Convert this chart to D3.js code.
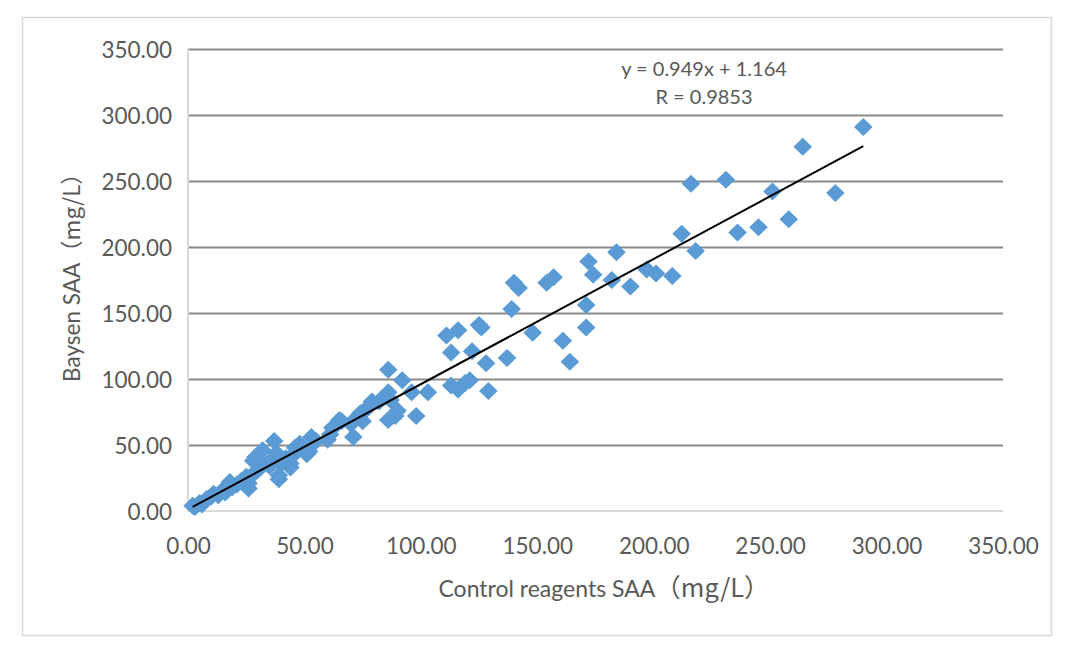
<!DOCTYPE html>
<html>
<head>
<meta charset="utf-8">
<script src="https://cdn.jsdelivr.net/npm/d3@7/dist/d3.min.js"></script>
<style>
  html, body { margin: 0; padding: 0; background: #fff; }
  svg { display: block; }
  text { font-family: Lato, "Open Sans", "Noto Sans CJK SC", sans-serif; fill: #595959; }
</style>
</head>
<body>
<svg id="chart" width="1074" height="655"></svg>
<script>
// ---- data ----
const controlSAA = [2,3,5,6,8,10,11,13,15,16,18,19,21,23,25,26,26,28,28,29,30,31,32,33,35,36,37,38,39,39,40,42,44,44,45,46,48,50,51,52,53,55,60,61,62,64,65,66,70,71,72,74,75,76,78,79,82,84,86,86,86,87,89,90,92,96,98,103,
  111,113,116,113,116,119,121,122,125,126,128,129,137,139,140,142,148,154,157,161,164,171,171,172,174,182,184,190,197,201,208,212,216,218,231,236,245,251,258,264,278,290];
const baysenSAA = [4,3,6,5,9,11,13,12,16,14,22,18,20,23,26,17,21,28,38,41,31,33,46,36,34,39,53,44,27,24,36,40,36,33,42,48,51,47,43,45,56,53,54,58,63,66,69,68,66,56,70,74,68,76,80,83,83,86,107,69,90,84,72,76,99,90,72,90,
  133,120,137,95,92,97,99,121,141,139,112,91,116,153,173,169,135,173,177,129,113,139,156,189,179,175,196,170,183,180,178,210,248,197,251,211,215,242,221,276,241,291];
const tickValues = [0, 50, 100, 150, 200, 250, 300, 350];
const trendSlope = 0.949;
const trendIntercept = 1.164;
const equationLines = ["y = 0.949x + 1.164", "R = 0.9853"];
const xTitleParts = ["Control reagents SAA", "（mg/L）"];
const yTitleParts = ["Baysen SAA", "（mg/L）"];

// ---- layout ----
const svg = d3.select("#chart");
const plot = { left: 188, right: 1003, top: 49, bottom: 511 };

svg.append("rect").attr("x", 0).attr("y", 0).attr("width", 1074).attr("height", 655).attr("fill", "#fff");
svg.append("rect")
  .attr("x", 22.5).attr("y", 17.5).attr("width", 1029).attr("height", 618)
  .attr("fill", "#fff").attr("stroke", "#d9d9d9").attr("stroke-width", 1.5);

const x = d3.scaleLinear().domain([0, 350]).range([plot.left, plot.right]);
const y = d3.scaleLinear().domain([0, 350]).range([plot.bottom, plot.top]);
const fmt = d3.format(".2f");

// gridlines
const grid = svg.append("g").attr("transform", `translate(${plot.left},0)`)
  .call(d3.axisLeft(y).tickValues(tickValues.slice(1)).tickSize(-(plot.right - plot.left)).tickFormat(""));
grid.select(".domain").remove();
grid.selectAll(".tick line").attr("stroke", "#898989").attr("stroke-width", 2);

// axis lines (light)
svg.append("line").attr("x1", plot.left).attr("x2", plot.right).attr("y1", y(0)).attr("y2", y(0))
  .attr("stroke", "#d9d9d9").attr("stroke-width", 2);
svg.append("line").attr("x1", plot.left).attr("x2", plot.left).attr("y1", plot.top).attr("y2", plot.bottom)
  .attr("stroke", "#d9d9d9").attr("stroke-width", 2);

// y tick labels
const yAxis = svg.append("g").attr("transform", `translate(${plot.left - 16},0)`)
  .call(d3.axisLeft(y).tickValues(tickValues).tickSize(0).tickPadding(0).tickFormat(fmt));
yAxis.select(".domain").remove();
yAxis.selectAll("text").attr("font-size", 22.5).attr("fill", "#595959")
  .style("font-family", "Lato, 'Open Sans', sans-serif").attr("dy", "0.36em");

// x tick labels
const xAxis = svg.append("g").attr("transform", `translate(0,${plot.bottom})`)
  .call(d3.axisBottom(x).tickValues(tickValues).tickSize(0).tickPadding(27).tickFormat(fmt));
xAxis.select(".domain").remove();
xAxis.selectAll("text").attr("font-size", 22.5).attr("fill", "#595959")
  .style("font-family", "Lato, 'Open Sans', sans-serif");

// points
const pts = controlSAA.map((c, i) => ({ c, b: baysenSAA[i] }));
const hw = 9.3, hh = 9;
svg.append("g").selectAll("path").data(pts).join("path")
  .attr("d", d => {
    const cx = x(d.c), cy = y(d.b);
    const p = d3.path();
    p.moveTo(cx, cy - hh); p.lineTo(cx + hw, cy); p.lineTo(cx, cy + hh); p.lineTo(cx - hw, cy); p.closePath();
    return p.toString();
  })
  .attr("fill", "#5b9bd5");

// trendline
const xmin = d3.min(controlSAA), xmax = d3.max(controlSAA);
svg.append("line")
  .attr("x1", x(xmin)).attr("y1", y(trendSlope * xmin + trendIntercept))
  .attr("x2", x(xmax)).attr("y2", y(trendSlope * xmax + trendIntercept))
  .attr("stroke", "#000").attr("stroke-width", 2);

// equation
svg.append("text").attr("x", 704).attr("y", 76).attr("text-anchor", "middle")
  .attr("font-size", 20).attr("fill", "#404040").text(equationLines[0]);
svg.append("text").attr("x", 704).attr("y", 104).attr("text-anchor", "middle")
  .attr("font-size", 20).attr("fill", "#404040").text(equationLines[1]);

// axis titles
const xt = svg.append("text").attr("x", 604).attr("y", 597).attr("text-anchor", "middle")
  .attr("font-size", 23);
xt.append("tspan").text(xTitleParts[0]);
xt.append("tspan").attr("font-size", 25.5).style("font-family", "'Noto Sans CJK SC', sans-serif").text(xTitleParts[1]);

const yt = svg.append("text").attr("transform", `translate(80,272) rotate(-90)`)
  .attr("text-anchor", "middle").attr("font-size", 22.5);
yt.append("tspan").text(yTitleParts[0]);
yt.append("tspan").style("font-family", "'Noto Sans CJK SC', sans-serif").text(yTitleParts[1]);
</script>
</body>
</html>
